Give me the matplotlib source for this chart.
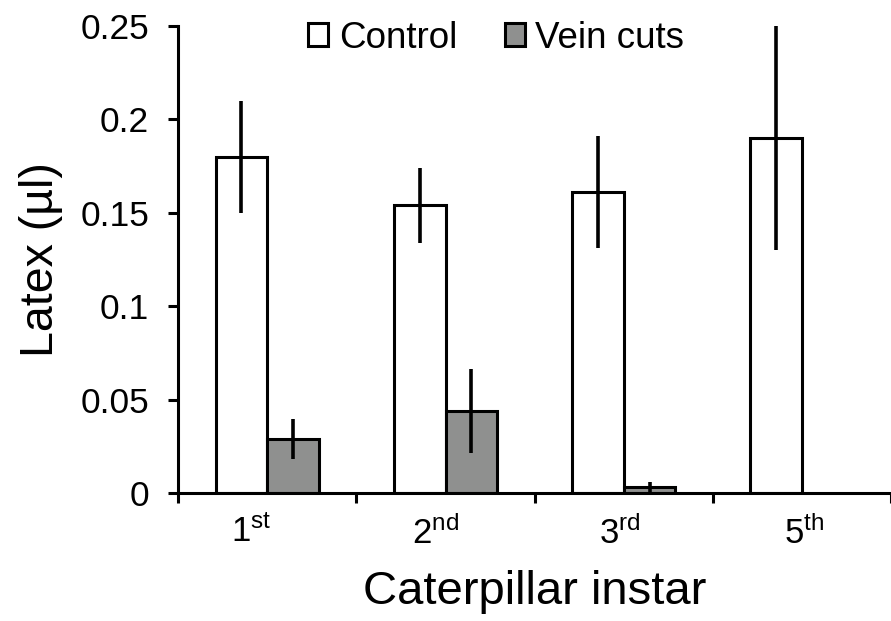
import matplotlib
matplotlib.use("Agg")
import matplotlib.pyplot as plt
import numpy as np

plt.rcParams['font.family'] = ['Liberation Sans', 'DejaVu Sans']
plt.rcParams['mathtext.fontset'] = 'custom'
plt.rcParams['mathtext.rm'] = 'Liberation Sans'
plt.rcParams['mathtext.it'] = 'Liberation Sans'

categories = [r'1$^{\mathrm{st}}$', r'2$^{\mathrm{nd}}$', r'3$^{\mathrm{rd}}$', r'5$^{\mathrm{th}}$']
control = [0.180, 0.154, 0.161, 0.190]
control_err = [0.030, 0.020, 0.030, 0.060]
vein = [0.029, 0.044, 0.003, 0.0]
vein_err = [0.0105, 0.0225, 0.003, 0.0]

fig = plt.figure(figsize=(8.91, 6.21), dpi=100)
ax = fig.add_axes([0.2, 0.206, 0.8, 0.752])

x = np.arange(len(categories)) + 0.5
w = 0.29
ax.bar(x - w, control, width=w, align='edge', color='white', edgecolor='black', linewidth=2.2, label='Control', zorder=2)
ax.bar(x, [v if v > 0 else np.nan for v in vein], width=w, align='edge', color='#8f908f', edgecolor='black', linewidth=2.2, label='Vein cuts', zorder=2)
ax.errorbar(x - w / 2, control, yerr=control_err, fmt='none', ecolor='black', elinewidth=2.6, capsize=0, zorder=3)
vx = [xi + w / 2 for xi, v in zip(x, vein) if v > 0]
ax.errorbar(vx, [v for v in vein if v > 0], yerr=[e for v, e in zip(vein, vein_err) if v > 0],
            fmt='none', ecolor='black', elinewidth=2.6, capsize=0, zorder=3)

ax.set_xlim(0, 4)
ax.set_ylim(0, 0.25)
ax.set_yticks([0, 0.05, 0.1, 0.15, 0.2, 0.25])
ax.set_yticklabels(['0', '0.05', '0.1', '0.15', '0.2', '0.25'])
ax.set_xticks([0, 1, 2, 3, 4])
ax.set_xticklabels([])
# label positions drift slightly in the original (as rendered by the source software)
label_pos = 0.41 + 1.035 * np.arange(len(categories))
ax.set_xticks(label_pos, minor=True)
ax.set_xticklabels(categories, minor=True)
ax.tick_params(axis='x', which='minor', length=0, labelsize=25, pad=16)
ax.tick_params(axis='x', which='major', length=7, width=2.2, direction='out')
ax.tick_params(axis='y', length=7, width=2.2, direction='out', labelsize=25.5, pad=14)

for s in ['top', 'right']:
    ax.spines[s].set_visible(False)
for s in ['left', 'bottom']:
    ax.spines[s].set_linewidth(2.2)

ax.set_ylabel('Latex (µl)', fontsize=33.5, labelpad=12)
ax.set_xlabel('Caterpillar instar', fontsize=34, labelpad=14)

leg = fig.legend(loc='upper center', bbox_to_anchor=(0.557, 1.02), ncol=2, frameon=False,
                 fontsize=26.5, handlelength=0.55, handleheight=0.58, handletextpad=0.28, columnspacing=1.3)

fig.savefig('out.png', dpi=100)
